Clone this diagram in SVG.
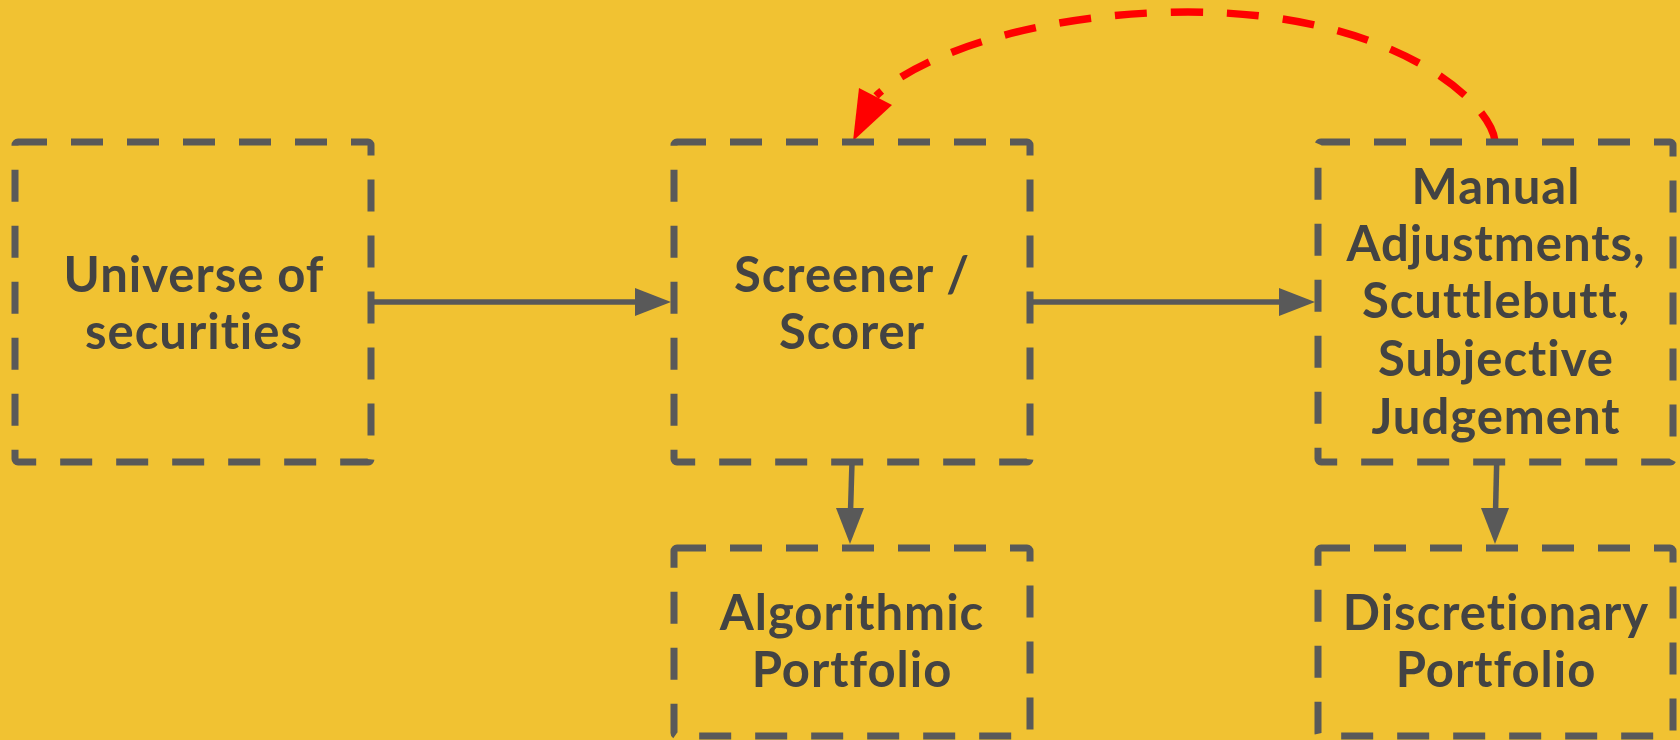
<svg xmlns="http://www.w3.org/2000/svg" width="1680" height="740" viewBox="0 0 1680 740">
  <style>
    .box { fill: none; stroke: #595959; stroke-width: 7; stroke-dasharray: 32 24; stroke-dashoffset: 3; stroke-linejoin: round; }
    .lbl { font-family: "Lato", "Liberation Sans", sans-serif; font-weight: bold; font-size: 49px; letter-spacing: 1px; font-variant-ligatures: none; fill: #434343; text-anchor: middle; }
    .conn { fill: none; stroke: #595959; stroke-width: 5.5; }
    .head { fill: #595959; stroke: none; }
    .fb { fill: none; stroke: #FF0000; stroke-width: 7.5; stroke-dasharray: 32 24; }
    .fbhead { fill: #FF0000; stroke: none; }
  </style>
  <rect x="0" y="0" width="1680" height="740" fill="#F1C232"/>

  <g id="connectors">
    <line class="conn" x1="371" y1="302" x2="636" y2="302"/>
    <polygon class="head" points="671,302 635,288 635,316"/>
    <line class="conn" x1="1030" y1="302" x2="1280" y2="302"/>
    <polygon class="head" points="1315,302 1279,288 1279,316"/>
    <line class="conn" x1="852" y1="462" x2="850.6" y2="509"/>
    <polygon class="head" points="850,544 836,508 864,508"/>
    <line class="conn" x1="1496.7" y1="462" x2="1495.6" y2="509"/>
    <polygon class="head" points="1495,544 1481,508 1509,508"/>
    <path class="fb" d="M1495,141 C1490,100 1390,12 1188,12 C1050,12 925,50 876,96"/>
    <polygon class="fbhead" points="853,141 859,88 892,105"/>
  </g>

  <g id="universe">
    <rect class="box" x="15" y="142" width="356" height="320" rx="3"/>
    <text class="lbl" x="194" y="292">Universe of</text>
    <text class="lbl" x="194" y="349">securities</text>
  </g>

  <g id="screener">
    <rect class="box" x="674" y="142" width="356" height="320" rx="3"/>
    <text class="lbl" x="852" y="292">Screener /</text>
    <text class="lbl" x="852" y="349">Scorer</text>
  </g>

  <g id="manual">
    <rect class="box" x="1318" y="142" width="355" height="320" rx="3"/>
    <text class="lbl" x="1496" y="204">Manual</text>
    <text class="lbl" x="1496" y="261">Adjustments,</text>
    <text class="lbl" x="1496" y="318">Scuttlebutt,</text>
    <text class="lbl" x="1496" y="376">Subjective</text>
    <text class="lbl" x="1496" y="434">Judgement</text>
  </g>

  <g id="algorithmic">
    <rect class="box" x="674" y="548" width="356" height="188" rx="3"/>
    <text class="lbl" x="852" y="630">Algorithmic</text>
    <text class="lbl" x="852" y="687">Portfolio</text>
  </g>

  <g id="discretionary">
    <rect class="box" x="1318" y="548" width="355" height="188" rx="3"/>
    <text class="lbl" x="1496" y="630">Discretionary</text>
    <text class="lbl" x="1496" y="687">Portfolio</text>
  </g>
</svg>
